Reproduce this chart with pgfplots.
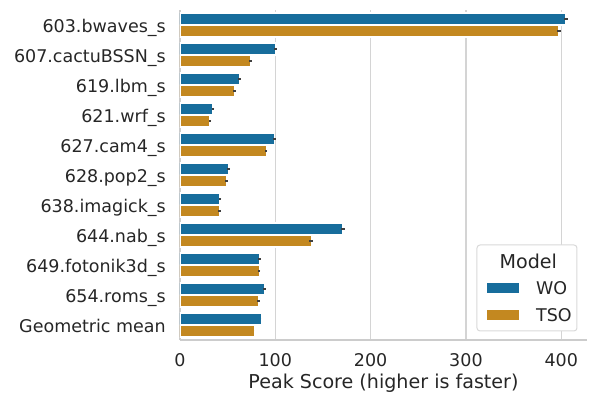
\documentclass[border=0pt]{standalone}
\usepackage{fontspec}
\setmainfont{DejaVu Sans}
\usepackage{pgfplots}
\usepackage{pgfplotstable}
\pgfplotsset{compat=1.18}
\definecolor{wo}{HTML}{176D9C}
\definecolor{tso}{HTML}{C38820}
\definecolor{txt}{HTML}{262626}
\definecolor{gridc}{HTML}{D4D4D4}
\definecolor{spinec}{HTML}{CCCCCC}
\definecolor{legc}{HTML}{D9D9D9}
\definecolor{errc}{HTML}{404040}

% pos: 10 = 603.bwaves_s (top) ... 0 = Geometric mean (bottom)
\pgfplotstableread{
pos val err
10 405 2
9 100 1.5
8 62 1.5
7 34.6 1.5
6 99 1.5
5 51 1.5
4 42 1.3
3 171 2
2 83.3 1.5
1 88.5 1.8
0 86 0
}\wodata
\pgfplotstableread{
pos val err
10 397.5 1.8
9 73.8 1.5
8 57.4 1.5
7 31.5 1.3
6 90.3 1.5
5 49 1.3
4 41.3 1.3
3 137.5 1.8
2 83 1.3
1 82.6 1.3
0 78 0
}\tsodata

\begin{document}
\begin{tikzpicture}
\begin{axis}[
  at={(0pt,0pt)}, anchor=south west,
  scale only axis, width=407pt, height=330pt,
  xbar, bar shift=0pt, bar width=0.4,
  xmin=0, xmax=427, ymin=-0.5, ymax=10.5,
  axis x line*=bottom, axis y line*=left,
  axis line style={-, draw=spinec, line width=2.5pt},
  xtick={0,100,200,300,400},
  ytick={0,1,2,3,4,5,6,7,8,9,10},
  yticklabels={Geometric mean,654.roms\_s,649.fotonik3d\_s,644.nab\_s,638.imagick\_s,628.pop2\_s,627.cam4\_s,621.wrf\_s,619.lbm\_s,607.cactuBSSN\_s,603.bwaves\_s},
  major tick length=0pt,
  xmajorgrids, ymajorgrids=false,
  grid style={draw=gridc, line width=1.4pt},
  tick label style={font=\fontsize{17.5}{21}\selectfont, text=txt},
  xticklabel style={anchor=north, inner sep=0pt, yshift=-13pt},
  yticklabel style={anchor=base east, inner sep=0pt, xshift=-14pt, yshift=-7.5pt},
  /pgf/number format/assume math mode=true,
  xlabel={Peak Score (higher is faster)},
  xlabel style={at={(axis description cs:0.5,0)}, anchor=base, yshift=-49pt, font=\fontsize{19.1}{23}\selectfont, text=txt},
  legend style={draw=none, fill=none, at={(axis description cs:0.7518,0.177)}, anchor=north west,
    inner sep=0pt, outer sep=0pt, row sep=13.74pt, column sep=16pt,
    font=\fontsize{17.5}{21}\selectfont, text=txt,
    cells={anchor=west}, nodes={inner sep=0pt, text depth=0pt}},
  legend image code/.code={\fill[#1] (0pt,-5.5pt) rectangle (33pt,5.5pt);},
]
\addplot[fill=wo, draw=white, line width=1.1pt,
  error bars/.cd, x dir=both, x explicit, error mark=none,
  error bar style={line width=2.7pt, draw=errc}]
  table[x=val, y expr=\thisrow{pos}+0.2, x error=err] {\wodata};
\addlegendentry{WO}
\addplot[fill=tso, draw=white, line width=1.1pt,
  error bars/.cd, x dir=both, x explicit, error mark=none,
  error bar style={line width=2.7pt, draw=errc}]
  table[x=val, y expr=\thisrow{pos}-0.2, x error=err] {\tsodata};
\addlegendentry{TSO}
\draw[draw=legc, line width=1pt, fill=white, rounded corners=3pt]
  (axis description cs:0.7297,0.0273) rectangle (axis description cs:0.9754,0.2879);
\node[anchor=base, inner sep=0pt, font=\fontsize{19.1}{23}\selectfont, text=txt]
  at (axis description cs:0.8558,0.2152) {Model};
\end{axis}
\pgfresetboundingbox
\useasboundingbox (-180pt,-55pt) rectangle (411pt,340pt);
\end{tikzpicture}
\end{document}
